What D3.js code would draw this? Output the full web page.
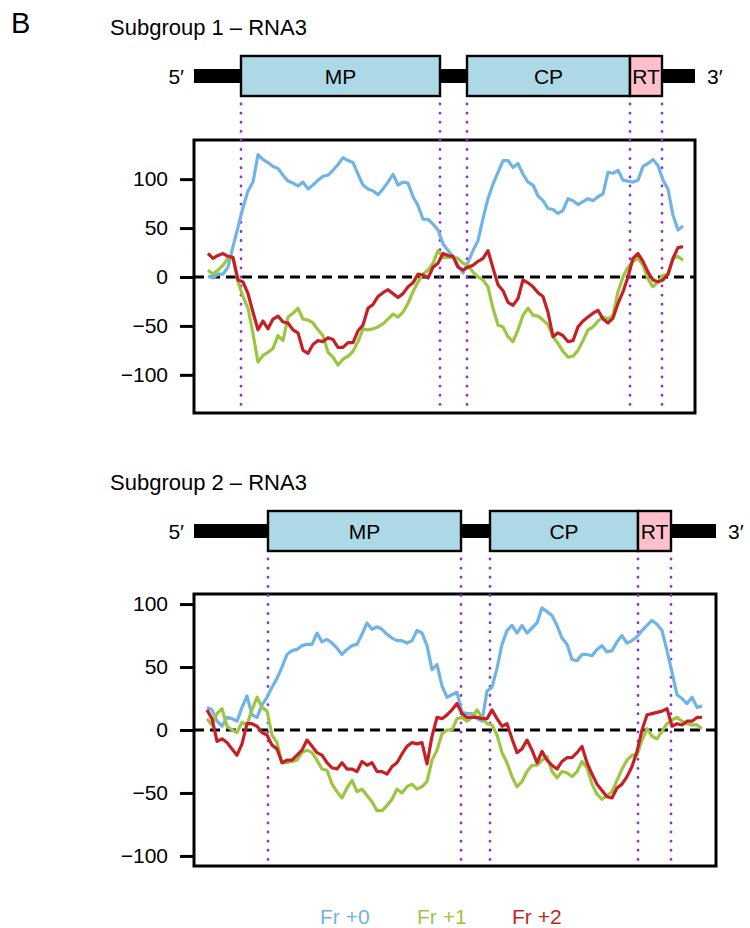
<!DOCTYPE html>
<html lang="en">
<head>
<meta charset="UTF-8">
<title>RNA3 frame plots</title>
<script src="https://cdn.jsdelivr.net/npm/d3@7"></script>
<style>
  body { margin: 0; background: #fff; }
  svg { display: block; font-family: 'Liberation Sans', Arial, sans-serif; }
</style>
</head>
<body>
<div id="chart"></div>
<script>

// ---- data ----
const frames = ['Fr +0', 'Fr +1', 'Fr +2'];
const yTicks = [-100, -50, 0, 50, 100];
const windowStep = 25; // nt between window centres

// Subgroup 1
const sg1Length = 2505;
const sg1FirstWindow = 70;
const sg1Features = [
  { name: 'MP', start: 235, end: 1230 },
  { name: 'CP', start: 1365, end: 2180 },
  { name: 'RT', start: 2180, end: 2340 }
];
const sg1Fr0 = [1, -1, 3, 3, 10, 31, 51, 71, 88, 97,
  125, 120, 117, 113, 111, 104, 98, 96, 93, 97,
  90, 94, 99, 103, 104, 109, 115, 122, 119, 117,
  105, 94, 90, 88, 84, 90, 97, 105, 94, 97,
  96, 82, 73, 59, 59, 54, 48, 34, 27, 21,
  12, 4, 15, 27, 37, 60, 80, 95, 107, 119,
  119, 112, 116, 105, 97, 94, 83, 78, 70, 69,
  65, 68, 80, 78, 74, 77, 80, 78, 82, 85,
  107, 106, 109, 99, 98, 97, 99, 113, 116, 120,
  114, 99, 90, 63, 48, 52];
const sg1Fr1 = [7, 3, 7, 12, 19, 19, -5, -20, -32, -58,
  -87, -80, -77, -73, -60, -65, -41, -37, -32, -43,
  -44, -47, -54, -60, -77, -82, -90, -84, -81, -76,
  -66, -53, -54, -53, -51, -48, -43, -38, -41, -36,
  -27, -15, -5, 3, 7, 14, 27, 20, 20, 20,
  19, 14, 12, 5, 0, -3, -10, -32, -49, -51,
  -61, -66, -54, -39, -32, -39, -40, -44, -49, -61,
  -68, -76, -82, -81, -75, -65, -54, -51, -45, -41,
  -43, -39, -15, 0, 10, 16, 19, 12, -2, -10,
  -5, 2, 2, 19, 21, 17];
const sg1Fr2 = [24, 19, 22, 24, 21, 20, -3, -5, -17, -36,
  -54, -45, -53, -43, -40, -46, -47, -54, -57, -75,
  -78, -69, -65, -66, -62, -64, -72, -72, -67, -67,
  -55, -49, -32, -28, -20, -16, -13, -17, -21, -17,
  -10, -6, 3, 2, -1, 10, 14, 24, 22, 21,
  10, 7, 10, 12, 16, 19, 27, 9, -8, -14,
  -26, -29, -22, -3, -6, -10, -16, -20, -36, -61,
  -57, -60, -66, -65, -51, -45, -41, -37, -34, -43,
  -47, -42, -27, -15, 0, 19, 24, 16, 5, -3,
  -5, -3, 3, 19, 30, 31];

// Subgroup 2
const sg2Length = 2610;
const sg2FirstWindow = 65;
const sg2Features = [
  { name: 'MP', start: 370, end: 1335 },
  { name: 'CP', start: 1480, end: 2220 },
  { name: 'RT', start: 2220, end: 2385 }
];
const sg2Fr0 = [18, 16, 7, 3, 10, 9, 7, 18, 27, 12,
  10, 20, 26, 34, 41, 50, 60, 63, 64, 67,
  68, 68, 77, 70, 72, 69, 65, 60, 64, 67,
  68, 76, 85, 80, 82, 80, 76, 73, 71, 71,
  69, 71, 79, 77, 67, 48, 52, 35, 26, 28,
  30, 14, 13, 13, 9, 7, 31, 34, 49, 68,
  79, 83, 77, 83, 77, 81, 85, 97, 94, 91,
  83, 73, 68, 56, 55, 60, 60, 59, 64, 67,
  62, 63, 70, 75, 69, 71, 74, 79, 83, 87,
  84, 79, 63, 46, 28, 25, 21, 26, 18, 19];
const sg2Fr1 = [9, 4, 13, 17, 3, 0, -2, 6, 4, 16,
  26, 18, 15, -4, -10, -26, -26, -25, -24, -18,
  -16, -18, -24, -31, -32, -43, -49, -54, -46, -40,
  -49, -47, -52, -57, -64, -64, -60, -55, -47, -50,
  -45, -43, -47, -45, -41, -24, -16, -3, 0, 0,
  9, 10, 7, 10, 16, 10, 5, 4, -4, -18,
  -26, -37, -45, -41, -33, -28, -28, -24, -21, -33,
  -38, -33, -34, -37, -33, -25, -30, -43, -51, -55,
  -52, -49, -40, -31, -24, -20, -20, -8, 1, -5,
  -7, -1, 5, 8, 10, 7, 5, 4, 4, 1];
const sg2Fr2 = [16, 9, -9, -7, -10, -15, -20, -11, 5, 5,
  3, -2, -4, -12, -15, -26, -24, -24, -20, -16,
  -8, -13, -18, -20, -26, -30, -31, -26, -31, -31,
  -33, -25, -28, -26, -33, -33, -35, -29, -26, -19,
  -13, -10, -11, -10, -27, -5, 10, 9, 12, 16,
  21, 13, 10, 10, 10, 9, 9, 16, 9, 3,
  5, -7, -18, -15, -8, -16, -26, -17, -24, -28,
  -31, -25, -22, -22, -18, -13, -26, -35, -43, -48,
  -53, -54, -46, -43, -37, -29, -17, 0, 12, 13,
  14, 15, 17, 3, 5, 4, 7, 7, 10, 10];

// ---- styles / layout ----
const frameColors = ['#6fb4e4', '#9cc640', '#c61f26'];
const featureFill = { MP: '#add8e6', CP: '#add8e6', RT: '#ffc0cb' };
const guideColor = '#8e2de2';
const fontSize = 21;

const panels = [
  {
    title: 'Subgroup 1 \u2013 RNA3', titleY: 35,
    length: sg1Length, first: sg1FirstWindow, features: sg1Features,
    series: [sg1Fr0, sg1Fr1, sg1Fr2],
    mapY: 76, left: 194, right: 695, top: 140, bottom: 413, yDomain: [-139, 140]
  },
  {
    title: 'Subgroup 2 \u2013 RNA3', titleY: 490,
    length: sg2Length, first: sg2FirstWindow, features: sg2Features,
    series: [sg2Fr0, sg2Fr1, sg2Fr2],
    mapY: 531, left: 194, right: 716, top: 594, bottom: 866, yDomain: [-108, 108]
  }
];

const svg = d3.select('#chart').append('svg')
  .attr('width', 750).attr('height', 928);

svg.append('text')
  .attr('x', 11).attr('y', 33)
  .attr('font-size', 29)
  .text('B');

panels.forEach(p => {
  const g = svg.append('g');
  const x = d3.scaleLinear().domain([0, p.length]).range([p.left, p.right]);
  const y = d3.scaleLinear().domain(p.yDomain).range([p.bottom, p.top]);

  g.append('text')
    .attr('x', 110).attr('y', p.titleY)
    .attr('font-size', 22)
    .text(p.title);

  // genome map
  g.append('rect')
    .attr('x', x(0)).attr('width', x(p.length) - x(0))
    .attr('y', p.mapY - 7).attr('height', 14)
    .attr('fill', '#000');
  g.append('text')
    .attr('x', x(0) - 10).attr('y', p.mapY).attr('dy', '0.36em')
    .attr('text-anchor', 'end').attr('font-size', fontSize)
    .text('5\u2032');
  g.append('text')
    .attr('x', x(p.length) + 12).attr('y', p.mapY).attr('dy', '0.36em')
    .attr('font-size', fontSize)
    .text('3\u2032');

  g.selectAll('.feat').data(p.features).enter().append('rect')
    .attr('x', d => x(d.start)).attr('width', d => x(d.end) - x(d.start))
    .attr('y', p.mapY - 20).attr('height', 40)
    .attr('fill', d => featureFill[d.name])
    .attr('stroke', '#000').attr('stroke-width', 2.4);
  g.selectAll('.featlab').data(p.features).enter().append('text')
    .attr('x', d => (x(d.start) + x(d.end)) / 2).attr('y', p.mapY).attr('dy', '0.36em')
    .attr('text-anchor', 'middle').attr('font-size', fontSize)
    .text(d => d.name);

  // plot frame and axis
  g.append('rect')
    .attr('x', p.left).attr('y', p.top)
    .attr('width', p.right - p.left).attr('height', p.bottom - p.top)
    .attr('fill', 'none').attr('stroke', '#000').attr('stroke-width', 3);

  const axis = g.append('g')
    .attr('transform', `translate(${p.left},0)`)
    .call(d3.axisLeft(y).tickValues(yTicks).tickSize(14).tickPadding(12));
  axis.select('.domain').remove();
  axis.selectAll('line').attr('stroke-width', 3);
  axis.selectAll('text').attr('font-size', fontSize).attr('font-family', 'Liberation Sans, Arial, sans-serif').attr('fill', '#000');

  g.append('line')
    .attr('x1', p.left).attr('x2', p.right)
    .attr('y1', y(0)).attr('y2', y(0))
    .attr('stroke', '#000').attr('stroke-width', 3)
    .attr('stroke-dasharray', '10,6');

  // feature boundaries
  const bounds = Array.from(new Set(p.features.flatMap(d => [d.start, d.end])));
  g.selectAll('.guide').data(bounds).enter().append('line')
    .attr('x1', d => x(d)).attr('x2', d => x(d))
    .attr('y1', p.mapY + 28).attr('y2', p.bottom - 4)
    .attr('stroke', guideColor).attr('stroke-width', 2.8)
    .attr('stroke-linecap', 'round')
    .attr('stroke-dasharray', '0.1,9');

  // frame lines
  const line = d3.line()
    .x((d, i) => x(p.first + i * windowStep))
    .y(d => y(d));
  p.series.forEach((s, k) => {
    g.append('path')
      .attr('d', line(s))
      .attr('fill', 'none')
      .attr('stroke', frameColors[k])
      .attr('stroke-width', 3.2)
      .attr('stroke-linejoin', 'round');
  });
});

// legend
const legendX = [320, 417, 512];
svg.selectAll('.legend').data(frames).enter().append('text')
  .attr('x', (d, i) => legendX[i]).attr('y', 924)
  .attr('font-size', fontSize)
  .attr('fill', (d, i) => frameColors[i])
  .text(d => d);

</script>
</body>
</html>
